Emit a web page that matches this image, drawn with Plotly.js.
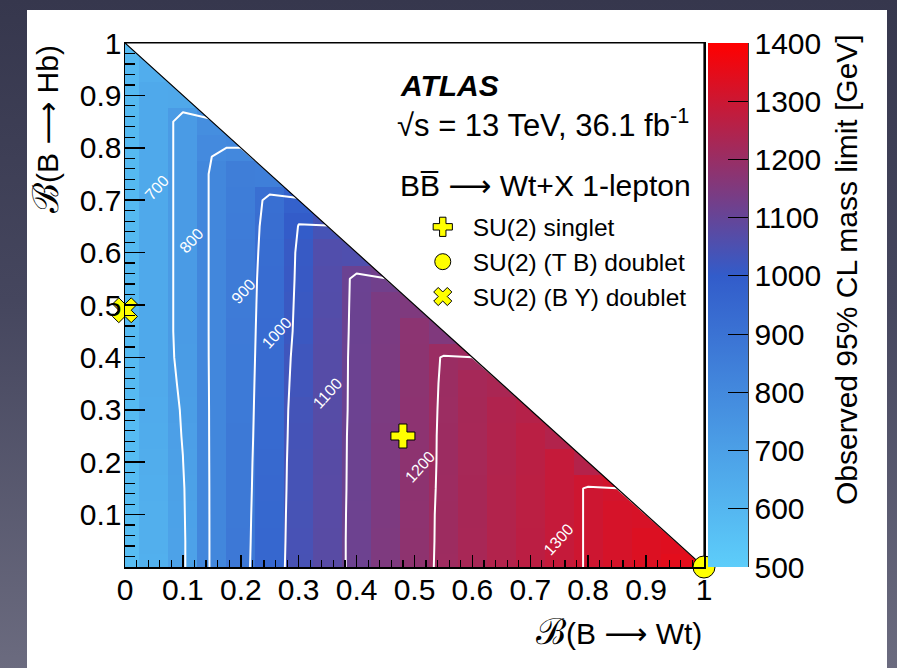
<!DOCTYPE html>
<html>
<head>
<meta charset="utf-8">
<script src="https://cdn.plot.ly/plotly-3.0.1.min.js"></script>
<style>
html,body{margin:0;padding:0;width:897px;height:668px;overflow:hidden;}
body{position:relative;background:linear-gradient(180deg,#36374d 0%,#45465e 45%,#6b6b7f 100%);}
#panel{position:absolute;left:27px;top:10px;width:860px;height:658px;background:#ffffff;}
#chart{position:absolute;left:0;top:0;width:897px;height:668px;}
</style>
</head>
<body>
<div id="panel"></div>
<div id="chart"></div>
<script>
// Bin centres of the branching-ratio grid
const brWt = [0, 0.05, 0.1, 0.15, 0.2, 0.25, 0.3, 0.35, 0.4, 0.45, 0.5,
              0.55, 0.6, 0.65, 0.7, 0.75, 0.8, 0.85, 0.9, 0.95, 1];
const brHb = [0, 0.05, 0.1, 0.15, 0.2, 0.25, 0.3, 0.35, 0.4, 0.45, 0.5,
              0.55, 0.6, 0.65, 0.7, 0.75, 0.8, 0.85, 0.9, 0.95, 1];

// Observed mass limit [GeV], one list per B(B->Wt) column, running up in B(B->Hb)
// until the physical boundary B(Wt)+B(Hb)=1 (last entry of each list).
const massLimitByColumn = [
  [570,571,572,574,576,578,580,582,584,586,588,589,590,590,590,590,590,590,589,588,578],
  [630,631,633,636,642,646,650,654,658,660,660,660,660,660,660,660,660,660,658,640],
  [690,690,692,694,699,703,706,712,718,720,720,720,720,720,720,720,720,720,664],
  [810,810,810,810,810,810,810,810,810,810,810,810,810,810,810,810,795,778],
  [875,874,873,872,871,870,869,868,867,866,865,864,862,859,855,850,805],
  [953,950,948,945,943,940,938,936,934,932,930,928,925,922,915,847],
  [1043,1042,1041,1040,1039,1037,1035,1030,1025,1018,1015,1012,1010,1002,978],
  [1075,1075,1074,1074,1073,1072,1071,1070,1069,1068,1065,1064,1060,1040],
  [1115,1115,1115,1114,1114,1114,1113,1113,1113,1112,1112,1111,1056],
  [1148,1148,1147,1147,1146,1146,1145,1145,1144,1143,1142,1122],
  [1180,1180,1179,1178,1178,1177,1177,1176,1176,1175,1150],
  [1210,1209,1209,1208,1207,1207,1206,1205,1203,1153],
  [1230,1230,1229,1229,1228,1228,1227,1226,1212],
  [1250,1250,1249,1249,1248,1247,1246,1235],
  [1268,1268,1267,1267,1266,1265,1255],
  [1286,1286,1286,1286,1286,1250],
  [1303,1303,1303,1303,1253],
  [1318,1318,1318,1312],
  [1332,1332,1322],
  [1345,1338],
  [1358]
];

const contourLevels = [700, 800, 900, 1000, 1100, 1200, 1300];

// Benchmark models
const benchmarkNames = ['SU(2) singlet', 'SU(2) (T B) doublet', 'SU(2) (B Y) doublet'];
const benchmarkWt = [0.48, 1.0, 0.0];
const benchmarkHb = [0.25, 0.0, 0.49];

const xTickVals = [0, 0.1, 0.2, 0.3, 0.4, 0.5, 0.6, 0.7, 0.8, 0.9, 1];
const yTickVals = [0.1, 0.2, 0.3, 0.4, 0.5, 0.6, 0.7, 0.8, 0.9, 1];
const zTickVals = [500, 600, 700, 800, 900, 1000, 1100, 1200, 1300, 1400];

// ---- styling -----------------------------------------------------------
const FONT = 'Liberation Sans, Arial, Helvetica, sans-serif';
const ARROW = ' <span style="font-family:\'DejaVu Sans\'">⟶</span> ';
const SCRIPT_B = '<span style="font-size:36px">ℬ</span>';
const palette = [[0, 'rgb(93,205,250)'], [0.5556, 'rgb(50,92,202)'], [1, 'rgb(255,0,0)']];
const benchmarkSymbols = ['cross', 'circle', 'x'];
const benchmarkSizes = [20, 22, 22];
// where each contour's value is written (data coordinates), text rotated along the band
const levelLabelPos = [[0.055, 0.725], [0.115, 0.623], [0.204, 0.526], [0.263, 0.447],
                       [0.349, 0.332], [0.51, 0.192], [0.749, 0.052]];

// Heatmap grid: cells beyond the boundary are left empty
const zHeat = brHb.map((_, j) => brWt.map((_, i) =>
  j < massLimitByColumn[i].length ? massLimitByColumn[i][j] : null));
// The contour lines were traced on the histogram, where empty bins count as zero
const zLines = zHeat.map(r => r.map(v => v === null ? 0 : v));

const traces = [];
traces.push({
  type: 'heatmap', x: brWt, y: brHb, z: zHeat, showlegend: false,
  zmin: 500, zmax: 1400, colorscale: palette, zsmooth: false,
  hoverinfo: 'skip',
  colorbar: {
    x: 1.0069, xanchor: 'left', xpad: 0, ypad: 0, y: 0.5, yanchor: 'middle',
    len: 1, lenmode: 'fraction', thickness: 40, thicknessmode: 'pixels',
    outlinewidth: 0, ticks: 'inside', ticklen: 20, tickwidth: 1.2, tickcolor: '#000',
    tickmode: 'array', tickvals: zTickVals, ticktext: zTickVals.map(String),
    tickfont: {family: FONT, size: 30, color: '#000'}
  }
});
traces.push({
  type: 'contour', x: brWt, y: brHb, z: zLines, showscale: false, showlegend: false,
  autocontour: false,
  contours: {start: contourLevels[0], end: contourLevels[contourLevels.length - 1],
             size: contourLevels[1] - contourLevels[0], coloring: 'none'},
  line: {color: '#ffffff', width: 2, smoothing: 0},
  hoverinfo: 'skip'
});
// Unphysical region B(Wt)+B(Hb)>1
traces.push({
  type: 'scatter', mode: 'lines', x: [0, 1, 1, 0], y: [1, 0, 1, 1],
  fill: 'toself', fillcolor: '#ffffff', line: {color: '#000', width: 1.2},
  showlegend: false, hoverinfo: 'skip'
});
benchmarkNames.forEach((name, k) => {
  traces.push({
    type: 'scatter', mode: 'markers', name: name,
    x: [benchmarkWt[k]], y: [benchmarkHb[k]], cliponaxis: false,
    marker: {symbol: benchmarkSymbols[k], size: benchmarkSizes[k], color: '#ffff00',
             line: {color: '#000', width: 1}},
    hoverinfo: 'skip'
  });
});

const annotations = [
  {text: '<b><i>ATLAS</i></b>', x: 0.4715, y: 0.918, font: {size: 30}},
  {text: '√s = 13 TeV, 36.1 fb<sup>-1</sup>', x: 0.466, y: 0.847, font: {size: 31}},
  {text: 'BB\u0305' + ARROW + 'Wt+X 1-lepton', x: 0.4715, y: 0.729, font: {size: 30}}
].map(a => Object.assign({xref: 'paper', yref: 'paper', xanchor: 'left', yanchor: 'middle',
  showarrow: false}, a, {font: Object.assign({family: FONT, color: '#000'}, a.font)}));

annotations.push({text: SCRIPT_B + '(B' + ARROW + 'Wt)', xref: 'paper', yref: 'paper', x: 1.0, y: -0.124,
  xanchor: 'right', yanchor: 'middle', showarrow: false, font: {family: FONT, size: 30, color: '#000'}});
annotations.push({text: SCRIPT_B + '(B' + ARROW + 'Hb)', xref: 'paper', yref: 'paper', x: -0.138, y: 1.0,
  xanchor: 'center', yanchor: 'top', textangle: -90, showarrow: false,
  font: {family: FONT, size: 30, color: '#000'}});
annotations.push({text: 'Observed 95% CL mass limit [GeV]', xref: 'paper', yref: 'paper',
  x: 1.2453, y: 1.02, xanchor: 'center', yanchor: 'top', textangle: -90, showarrow: false,
  font: {family: FONT, size: 30, color: '#000'}});
contourLevels.forEach((lv, k) => {
  annotations.push({text: String(lv), xref: 'x', yref: 'y',
    x: levelLabelPos[k][0], y: levelLabelPos[k][1], textangle: -48, showarrow: false,
    font: {family: FONT, size: 16, color: '#ffffff'}});
});

const axisCommon = {
  range: [0, 1], showgrid: false, zeroline: false, showline: true, mirror: true,
  linecolor: '#000', linewidth: 1.5, ticks: 'inside', tickcolor: '#000', tickwidth: 1.5,
  tickfont: {family: FONT, size: 30, color: '#000'}, fixedrange: true
};

const layout = {
  width: 897, height: 668,
  margin: {l: 125, r: 193, t: 43, b: 101, pad: 0},
  paper_bgcolor: 'rgba(0,0,0,0)', plot_bgcolor: '#ffffff',
  font: {family: FONT, color: '#000'},
  xaxis: Object.assign({}, axisCommon, {
    tickmode: 'array', tickvals: xTickVals, ticktext: xTickVals.map(String), ticklen: 12,
    ticklabelstandoff: -5,
    minor: {tick0: 0, dtick: 0.02, ticks: 'inside', ticklen: 7, tickwidth: 1.2, tickcolor: '#000'}
  }),
  yaxis: Object.assign({}, axisCommon, {
    tickmode: 'array', tickvals: yTickVals, ticktext: yTickVals.map(String), ticklen: 20,
    ticklabelstandoff: -4,
    minor: {tick0: 0, dtick: 0.02, ticks: 'inside', ticklen: 10, tickwidth: 1.2, tickcolor: '#000'}
  }),
  showlegend: true,
  legend: {x: 0.497, y: 0.692, xanchor: 'left', yanchor: 'top', bgcolor: 'rgba(0,0,0,0)',
           borderwidth: 0, itemwidth: 50, traceorder: 'normal',
           font: {family: FONT, size: 24.5, color: '#000'}},
  annotations: annotations,
  shapes: [{type: 'line', xref: 'paper', yref: 'paper', x0: 1.076, x1: 1.076, y0: 0, y1: 1,
            line: {color: '#000', width: 1.5}}]
};

Plotly.newPlot('chart', traces, layout, {staticPlot: true, displayModeBar: false});
</script>
</body>
</html>
